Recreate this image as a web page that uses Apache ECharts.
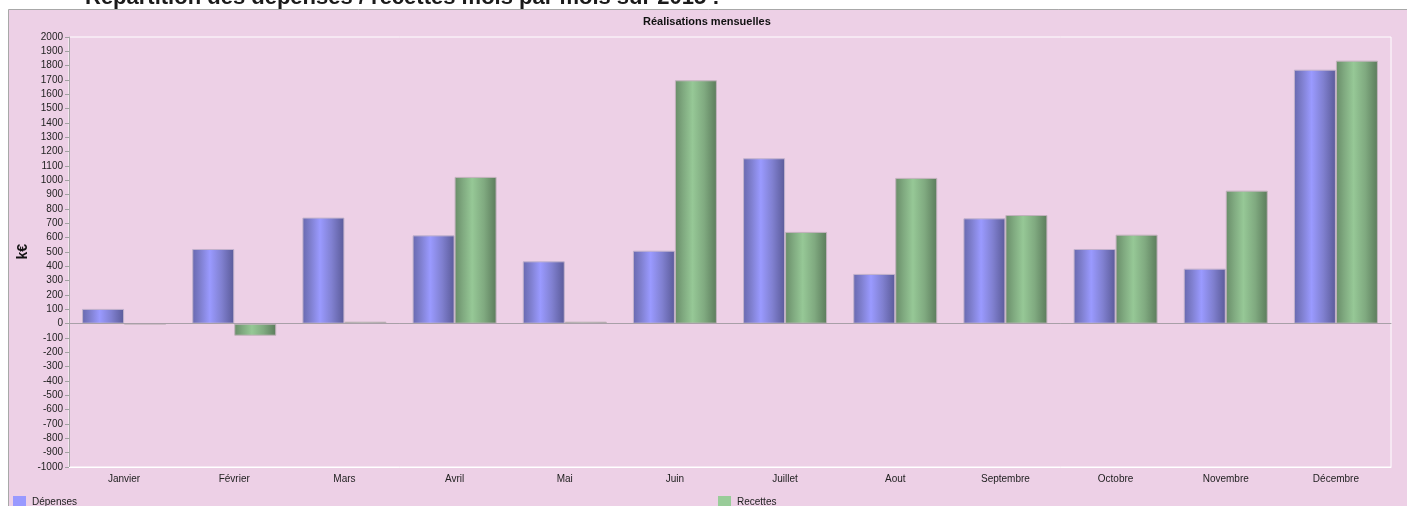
<!DOCTYPE html>
<html>
<head>
<meta charset="utf-8">
<script src="https://cdn.jsdelivr.net/npm/echarts@6/dist/echarts.min.js"></script>
<style>
  html, body { margin: 0; padding: 0; background: #fff; }
  #chart { width: 1407px; height: 506px; }
</style>
</head>
<body>
<div id="chart"></div>
<script>
var months = ['Janvier', 'Février', 'Mars', 'Avril', 'Mai', 'Juin', 'Juillet', 'Aout', 'Septembre', 'Octobre', 'Novembre', 'Décembre'];
var depenses = [103, 521, 740, 616, 435, 509, 1154, 347, 735, 521, 384, 1772];
var recettes = [-4, -84, 14, 1024, 14, 1698, 640, 1017, 758, 621, 928, 1835];

function cylinder(edge, mid, light, dark) {
    return new echarts.graphic.LinearGradient(0, 0, 1, 0, [
        { offset: 0, color: edge },
        { offset: 0.2, color: mid },
        { offset: 0.42, color: light },
        { offset: 0.7, color: mid },
        { offset: 1, color: dark }
    ]);
}

var myChart = echarts.init(document.getElementById('chart'));

var option = {
    animation: false,
    textStyle: { fontFamily: 'Arial, "Liberation Sans", sans-serif' },
    graphic: [
        {
            type: 'rect', z: -10, silent: true,
            shape: { x: 8.5, y: 9.5, width: 1400, height: 520 },
            style: { fill: '#edd0e6', stroke: '#a8a8a8', lineWidth: 1 }
        },
        {
            type: 'text', left: 85, top: -13, silent: true,
            style: { text: 'Répartition des dépenses / recettes mois par mois sur 2015 :', fill: '#1a1a1a', font: 'bold 22px Arial, "Liberation Sans", sans-serif' }
        },
        {
            type: 'text', left: 643, top: 16, silent: true,
            style: { text: 'Réalisations mensuelles', fill: '#111', font: 'bold 11px Arial, "Liberation Sans", sans-serif' }
        },
        {
            type: 'text', left: 16, top: 244, silent: true, rotation: Math.PI / 2,
            style: { text: 'k€', fill: '#111', font: 'bold 14px Arial, "Liberation Sans", sans-serif' }
        }
    ],
    legend: [
        {
            left: 13, top: 496, padding: 0, itemWidth: 13, itemHeight: 13,
            icon: 'rect', data: ['Dépenses'],
            itemStyle: { color: '#9999ff', borderWidth: 0 },
            textStyle: { fontSize: 10, color: '#222', padding: [0, 0, 0, 1] }
        },
        {
            left: 718, top: 496, padding: 0, itemWidth: 13, itemHeight: 13,
            icon: 'rect', data: ['Recettes'],
            itemStyle: { color: '#99cc99', borderWidth: 0 },
            textStyle: { fontSize: 10, color: '#222', padding: [0, 0, 0, 1] }
        }
    ],
    grid: {
        left: 69, right: 16, top: 37, bottom: 39,
        show: true, borderColor: '#ffffff', borderWidth: 1, backgroundColor: 'transparent'
    },
    xAxis: [
        {
            type: 'category',
            data: months,
            axisLine: { onZero: false, lineStyle: { color: '#ffffff' } },
            axisTick: { alignWithLabel: true, length: 3, lineStyle: { color: '#a0a0a0' } },
            axisLabel: { fontSize: 10, color: '#222', margin: 7 }
        },
        {
            type: 'category',
            data: months,
            position: 'top',
            axisLine: { lineStyle: { color: '#a8a8a8' } },
            axisTick: { show: false },
            axisLabel: { show: false }
        }
    ],
    yAxis: {
        type: 'value',
        min: -1000, max: 2000, interval: 100,
        axisLine: { show: true, lineStyle: { color: '#a8a8a8' } },
        axisTick: { show: true, length: 4, lineStyle: { color: '#a0a0a0' } },
        axisLabel: { fontSize: 10, color: '#222', margin: 6, formatter: function (v) { return String(v); } },
        splitLine: { show: false }
    },
    series: [
        {
            name: 'Dépenses',
            type: 'bar',
            data: depenses,
            barWidth: 42,
            barGap: '0%',
            itemStyle: {
                color: cylinder('#6868ae', '#8080d0', '#9a9aff', '#5a5a98'),
                borderColor: '#c2b2cc', borderWidth: 1
            },
            markLine: {
                silent: true, symbol: 'none', label: { show: false },
                lineStyle: { color: '#a8a0a8', type: 'solid', width: 1 },
                data: [{ yAxis: 0 }]
            }
        },
        {
            name: 'Recettes',
            type: 'bar',
            data: recettes,
            barWidth: 42,
            itemStyle: {
                color: cylinder('#688c68', '#80aa80', '#96c896', '#5b7b5b'),
                borderColor: '#c2b2bc', borderWidth: 1
            }
        }
    ]
};

myChart.setOption(option);
</script>
</body>
</html>
